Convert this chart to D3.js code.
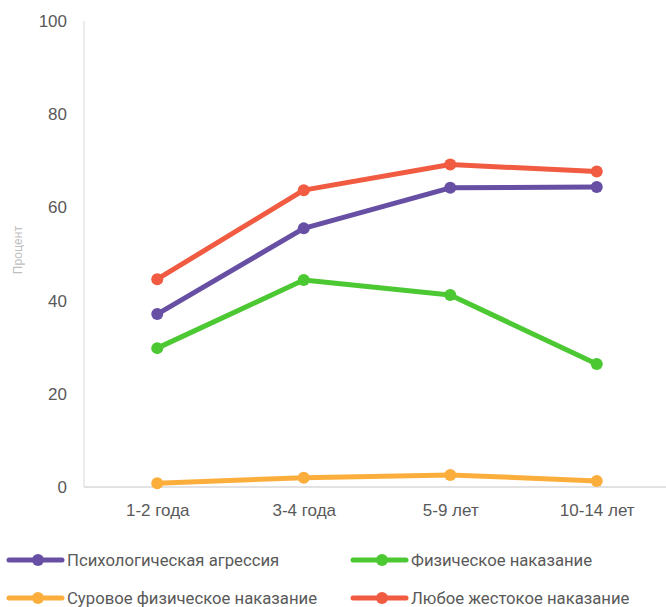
<!DOCTYPE html>
<html><head><meta charset="utf-8">
<script src="https://cdn.jsdelivr.net/npm/d3@7"></script>
<style>body{margin:0;background:#fff}svg{display:block;font-family:"Roboto","Liberation Sans",sans-serif}</style>
</head><body><svg id="c" width="666" height="607"></svg>
<script>
const categories = ["1-2 года","3-4 года","5-9 лет","10-14 лет"];
const seriesNames = ["Психологическая агрессия","Физическое наказание","Суровое физическое наказание","Любое жестокое наказание"];
const psych = [37.1, 55.5, 64.2, 64.4];
const physical = [29.8, 44.4, 41.2, 26.4];
const severe = [0.8, 2.0, 2.6, 1.3];
const anyViolent = [44.6, 63.7, 69.2, 67.7];
const yTicks = [0,20,40,60,80,100];
const colors = ["#6750a4","#4cc832","#fcae3c","#f05b41"];

(function(){
const seriesData = [psych, physical, severe, anyViolent];
const drawOrder = [2,1,0,3];

const svg = d3.select("#c");
const pLeft = 84, pRight = 670, pTop = 21, pBottom = 487;
const x = d3.scalePoint().domain(categories).range([pLeft, pRight]).padding(0.5);
const y = d3.scaleLinear().domain([0,100]).range([pBottom, pTop]);

svg.append("line").attr("x1",pLeft).attr("x2",pLeft).attr("y1",pTop).attr("y2",pBottom).attr("stroke","#d9d9d9").attr("stroke-width",1);
svg.append("line").attr("x1",pLeft).attr("x2",666).attr("y1",pBottom).attr("y2",pBottom).attr("stroke","#d9d9d9").attr("stroke-width",1.5);

const yAxis = d3.axisLeft(y).tickValues(yTicks).tickSize(0).tickPadding(17);
const gy = svg.append("g").attr("transform",`translate(${pLeft},0)`).call(yAxis);
gy.select(".domain").remove();
gy.selectAll("text").attr("fill","#595959").style("font-size","17px");

const xAxis = d3.axisBottom(x).tickSize(0).tickPadding(17);
const gx = svg.append("g").attr("transform",`translate(0,${pBottom})`).call(xAxis);
gx.select(".domain").remove();
gx.selectAll("text").attr("fill","#595959").style("font-size","17px");

svg.append("text").attr("transform","translate(22,250) rotate(-90)").attr("text-anchor","middle")
  .attr("fill","#bfbfbf").style("font-size","12px").text("Процент");

const line = d3.line().x((d,i)=>x(categories[i])).y(d=>y(d));
drawOrder.forEach(k=>{
  const g = svg.append("g");
  g.append("path").datum(seriesData[k]).attr("d",line).attr("fill","none")
    .attr("stroke",colors[k]).attr("stroke-width",5).attr("stroke-linejoin","round");
  g.selectAll("circle").data(seriesData[k]).join("circle")
    .attr("cx",(d,i)=>x(categories[i])).attr("cy",d=>y(d)).attr("r",6).attr("fill",colors[k]);
});

const legPos = [[9,560],[353,560],[9,598],[353,598]];
seriesNames.forEach((name,k)=>{
  const [lx,ly] = legPos[k];
  const g = svg.append("g").attr("transform",`translate(${lx},${ly})`);
  g.append("line").attr("x1",0).attr("x2",53).attr("y1",0).attr("y2",0).attr("stroke",colors[k]).attr("stroke-width",5).attr("stroke-linecap","round");
  g.append("circle").attr("cx",29).attr("cy",0).attr("r",6).attr("fill",colors[k]);
  g.append("text").attr("x",58).attr("y",5.5).attr("fill","#595959").style("font-size","16.7px").text(name);
});
})();
</script></body></html>
